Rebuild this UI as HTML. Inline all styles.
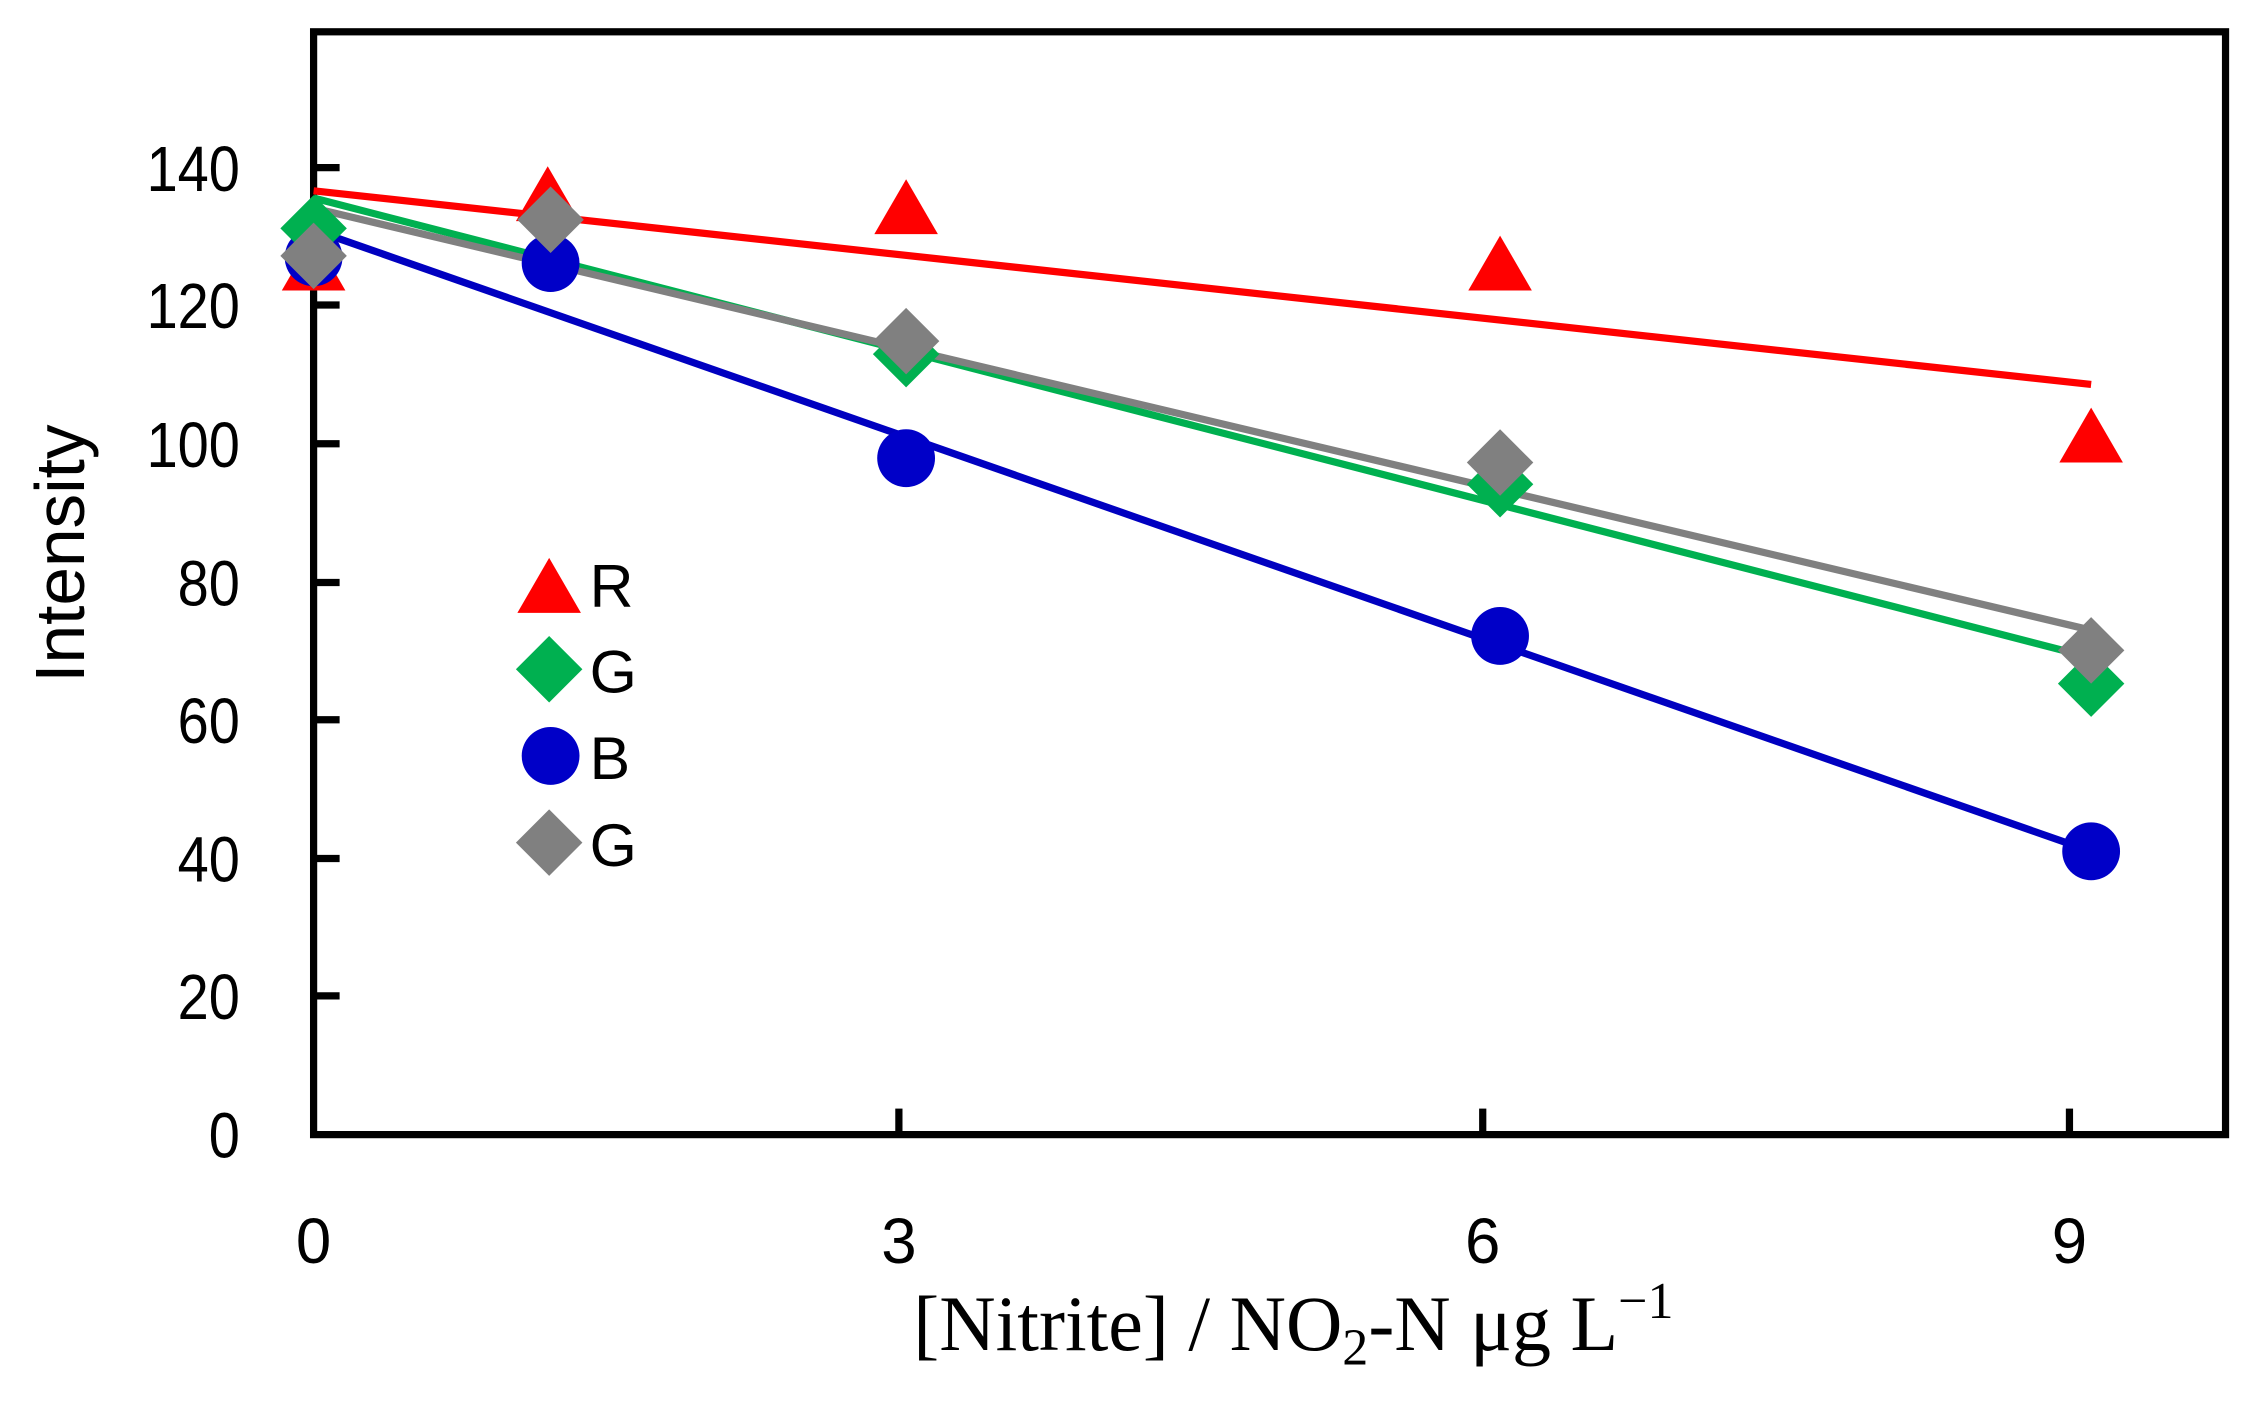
<!DOCTYPE html>
<html><head><style>html,body{margin:0;padding:0;background:#fff}svg{display:block}</style></head>
<body>
<svg width="2266" height="1402" viewBox="0 0 1568 970" preserveAspectRatio="none" xmlns="http://www.w3.org/2000/svg">
<rect x="217" y="22" width="1323" height="763" fill="none" stroke="#000" stroke-width="5"/>
<g stroke="#000" stroke-width="5">
<line x1="217" y1="689" x2="235" y2="689"/><line x1="217" y1="594" x2="235" y2="594"/>
<line x1="217" y1="498" x2="235" y2="498"/><line x1="217" y1="403" x2="235" y2="403"/>
<line x1="217" y1="307" x2="235" y2="307"/><line x1="217" y1="211" x2="235" y2="211"/>
<line x1="217" y1="116" x2="235" y2="116"/>
<line x1="622" y1="785" x2="622" y2="767"/><line x1="1026" y1="785" x2="1026" y2="767"/><line x1="1432" y1="785" x2="1432" y2="767"/>
</g>
<g font-family="Liberation Sans, sans-serif" font-size="44" text-anchor="end" fill="#000" transform="translate(166,0) scale(0.88,1)">
<text x="0" y="801">0</text><text x="0" y="705">20</text><text x="0" y="610">40</text>
<text x="0" y="514">60</text><text x="0" y="419">80</text><text x="0" y="323">100</text>
<text x="0" y="227">120</text><text x="0" y="132">140</text>
</g>
<g font-family="Liberation Sans, sans-serif" font-size="44" text-anchor="middle">
<text x="217" y="874">0</text><text x="622" y="874">3</text><text x="1026" y="874">6</text><text x="1432" y="874">9</text>
</g>
<text transform="translate(58,383) rotate(-90)" font-family="Liberation Sans, sans-serif" font-size="48" text-anchor="middle">Intensity</text>
<text x="895" y="934" font-family="Liberation Serif, serif" font-size="54" text-anchor="middle">[Nitrite] / NO<tspan font-size="36" dy="10">2</tspan><tspan dy="-10">-N μg L</tspan><tspan font-size="36" dy="-22">−1</tspan></text>
<line x1="217" y1="132" x2="1447" y2="266" stroke="#ff0000" stroke-width="5"/>
<line x1="217" y1="137" x2="1447" y2="455" stroke="#00b050" stroke-width="5"/>
<line x1="217" y1="144" x2="1447" y2="436" stroke="#808080" stroke-width="5"/>
<line x1="217" y1="159" x2="1447" y2="589" stroke="#0000c0" stroke-width="5"/>
<g fill="#ff0000">
<polygon points="217,163 239,201 195,201"/>
<polygon points="379,115 401,153 357,153"/>
<polygon points="627,124 649,162 605,162"/>
<polygon points="1038,163 1060,201 1016,201"/>
<polygon points="1447,282 1469,320 1425,320"/>
<polygon points="380,386 402,424 358,424"/>
</g>
<g fill="#0000c8">
<circle cx="217" cy="178" r="20"/><circle cx="381" cy="182" r="20"/><circle cx="627" cy="317" r="20"/>
<circle cx="1038" cy="440" r="20"/><circle cx="1447" cy="589" r="20"/><circle cx="381" cy="523" r="20"/>
</g>
<g fill="#00b050">
<polygon points="217,135 240,158 217,181 194,158"/>
<polygon points="627,222 650,245 627,268 604,245"/>
<polygon points="1038,312 1061,335 1038,358 1015,335"/>
<polygon points="1447,450 1470,473 1447,496 1424,473"/>
<polygon points="380,440 403,463 380,486 357,463"/>
</g>
<g fill="#808080">
<polygon points="217,154 240,177 217,200 194,177"/>
<polygon points="381,129 404,152 381,175 358,152"/>
<polygon points="627,213 650,236 627,259 604,236"/>
<polygon points="1038,297 1061,320 1038,343 1015,320"/>
<polygon points="1447,427 1470,450 1447,473 1424,450"/>
<polygon points="380,560 403,583 380,606 357,583"/>
</g>
<g font-family="Liberation Sans, sans-serif" font-size="42">
<text x="408" y="420">R</text><text x="408" y="479">G</text><text x="408" y="539">B</text><text x="408" y="599">G</text>
</g>
</svg>
</body></html>
